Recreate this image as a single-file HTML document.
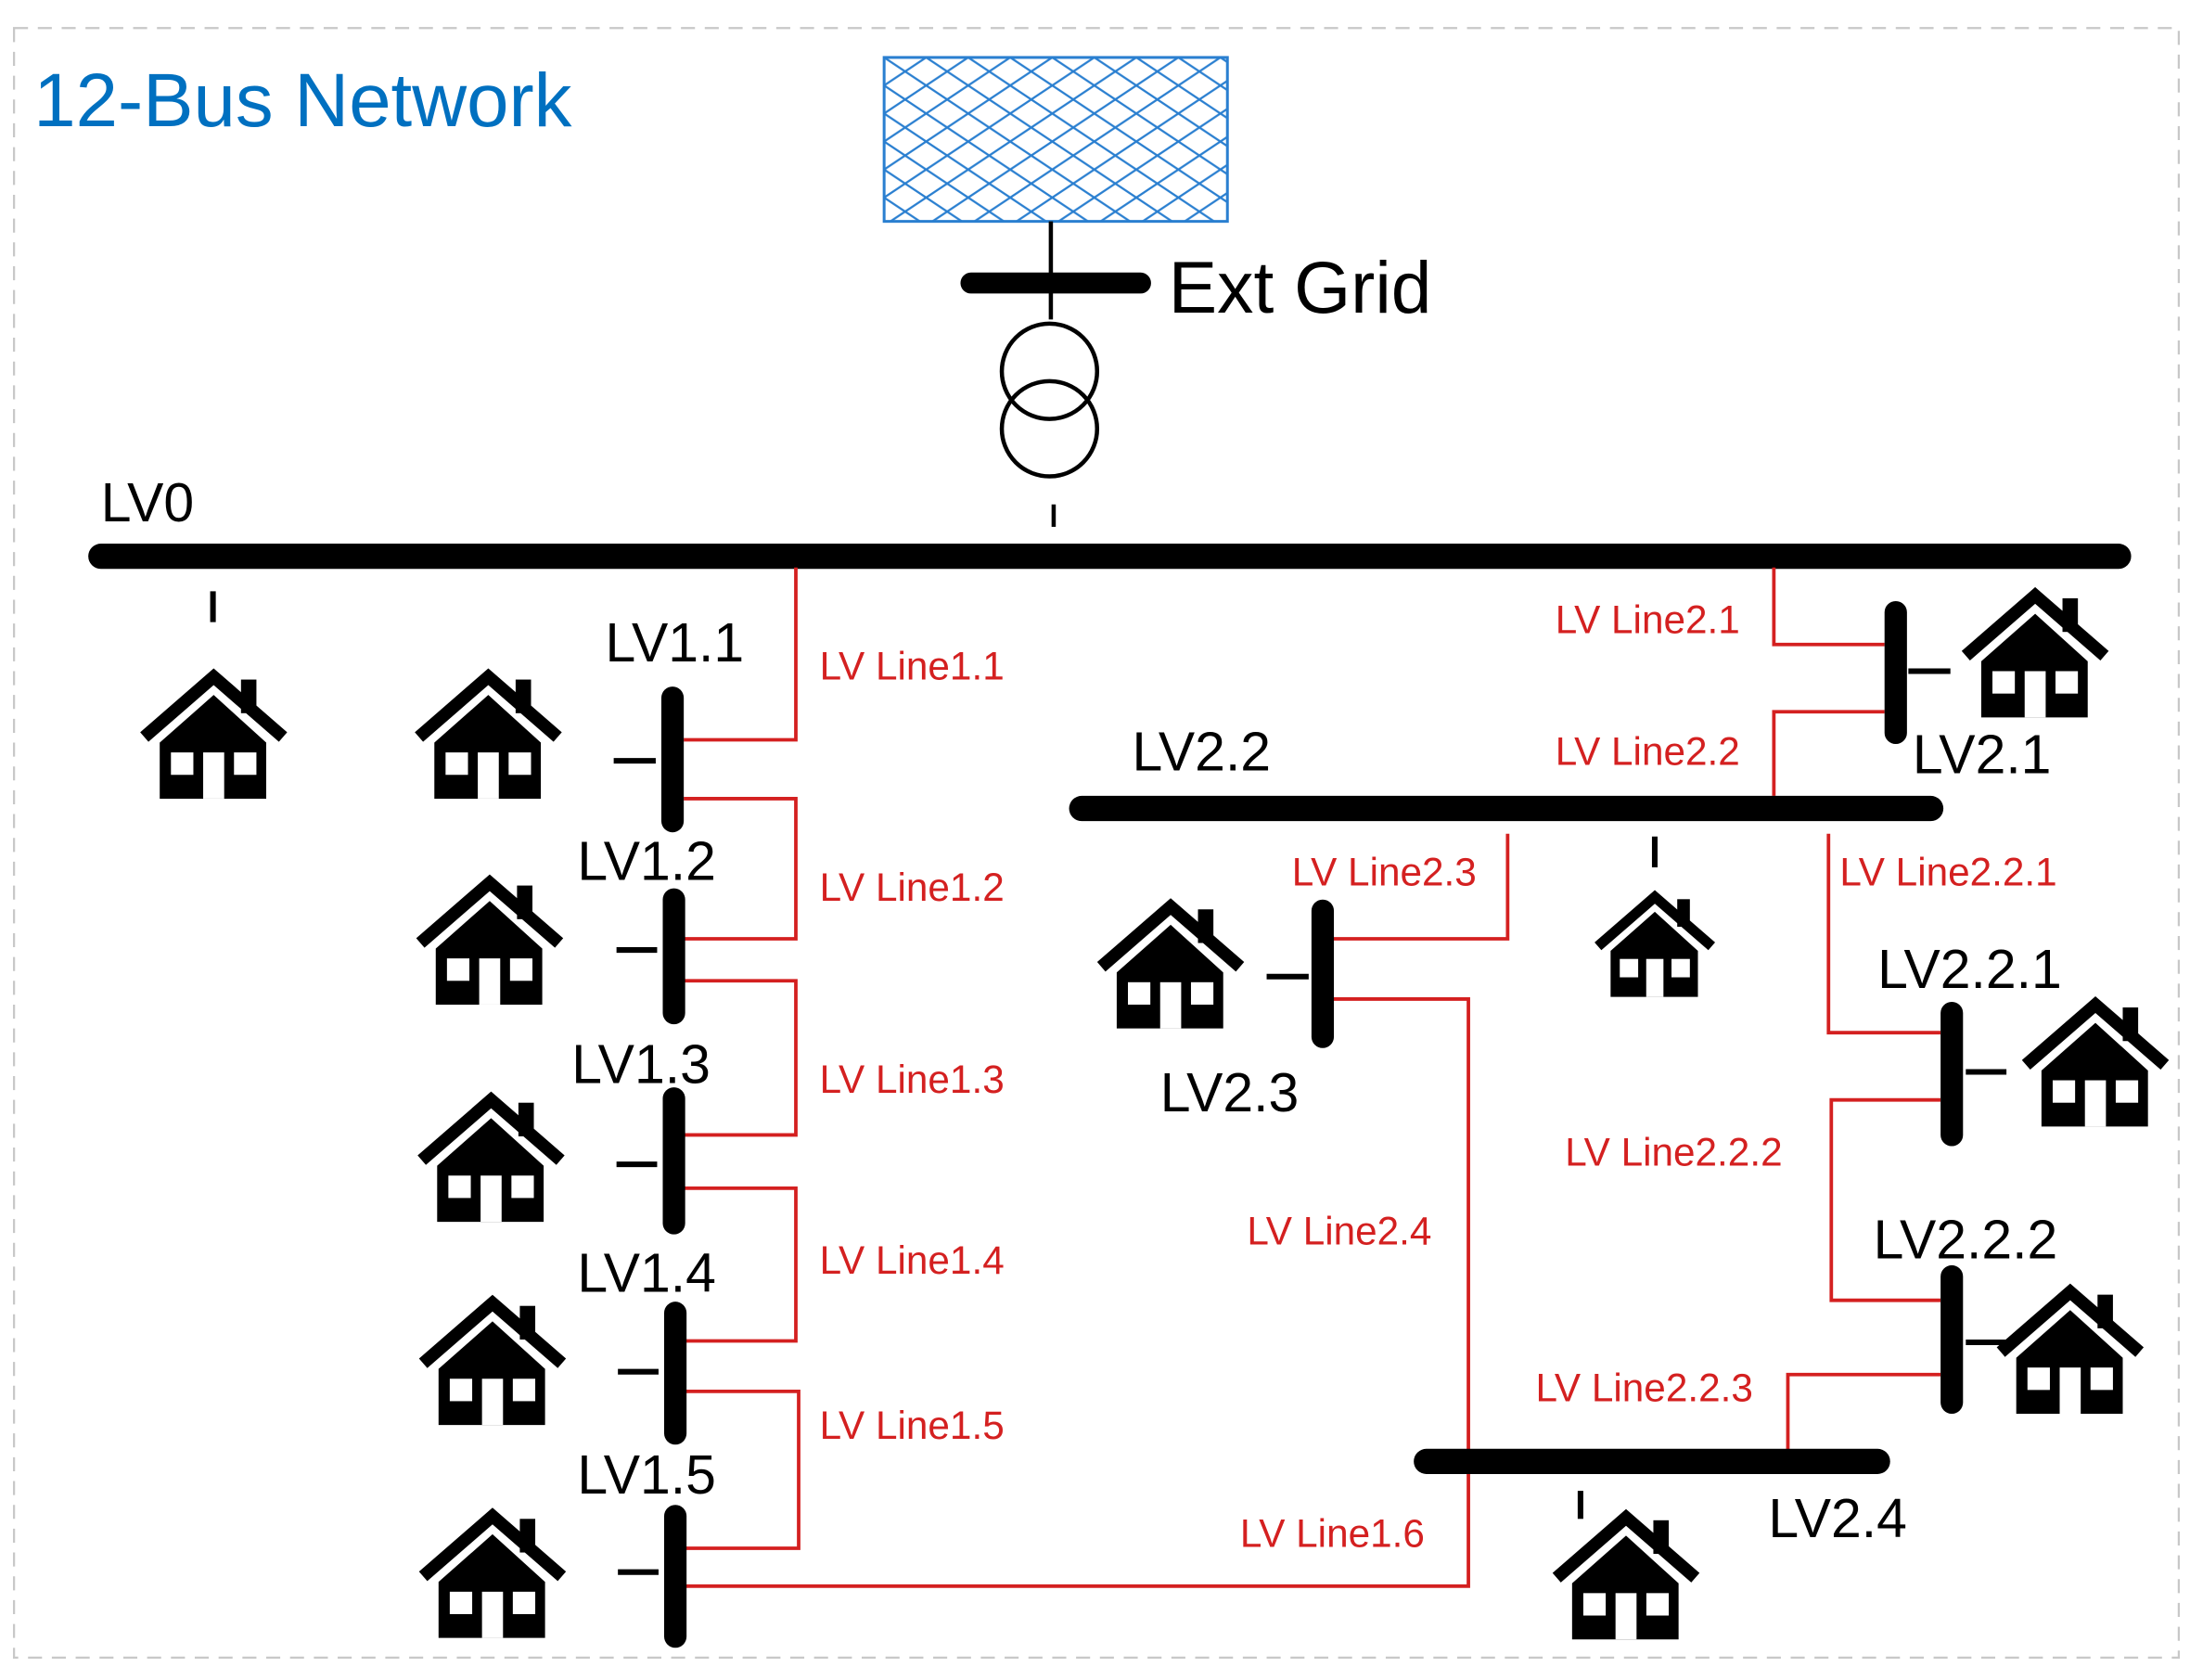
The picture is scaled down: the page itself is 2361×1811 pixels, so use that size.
<!DOCTYPE html>
<html><head><meta charset="utf-8"><style>
html,body{margin:0;padding:0;background:#fff;}
svg{display:block;}
text{font-family:"Liberation Sans",sans-serif;}
.b{font-size:39px;fill:#000;}
.r{font-size:28px;fill:#d42020;}
</style></head><body>
<svg width="2361" height="1811" viewBox="0 0 1563 1199" preserveAspectRatio="none" xmlns="http://www.w3.org/2000/svg">
<defs>
<pattern id="hatch" width="30" height="20" patternUnits="userSpaceOnUse" x="631" y="41">
<path d="M0,0 L30,20 M30,0 L0,20 M-15,10 L0,20 M30,0 L45,10 M-15,-10 L0,0 M30,20 L45,30" stroke="#2a7fd0" stroke-width="1.5" fill="none"/>
</pattern>
<g id="house">
<polyline points="3,48 52.5,5 102,48" fill="none" stroke="#000" stroke-width="9"/>
<rect x="72" y="7" width="11" height="24" fill="#000"/>
<polygon points="14,52 52.5,18 90,52 90,92 14,92" fill="#000"/>
<rect x="22" y="59" width="16" height="16" fill="#fff"/>
<rect x="67" y="59" width="16" height="16" fill="#fff"/>
<rect x="45" y="59" width="15" height="33" fill="#fff"/>
</g>
</defs>
<rect x="10" y="20" width="1545" height="1163" fill="none" stroke="#c8c8c8" stroke-width="1.5" stroke-dasharray="10,7"/>
<text x="24" y="90" style="font-size:54px;fill:#0070c0;">12-Bus Network</text>

<rect x="631" y="41" width="245" height="117" fill="url(#hatch)" stroke="#2a7fd0" stroke-width="2"/>
<line x1="750" y1="158" x2="750" y2="228" stroke="#000" stroke-width="3"/>
<line x1="693" y1="202" x2="814" y2="202" stroke="#000" stroke-width="15" stroke-linecap="round"/>
<text x="834" y="223" style="font-size:52px;">Ext Grid</text>
<circle cx="749" cy="265" r="34" fill="none" stroke="#000" stroke-width="3"/>
<circle cx="749" cy="306" r="34" fill="none" stroke="#000" stroke-width="3"/>
<line x1="752" y1="360" x2="752" y2="376" stroke="#000" stroke-width="3"/>

<line x1="72" y1="397" x2="1512" y2="397" stroke="#000" stroke-width="18" stroke-linecap="round"/>
<text class="b" x="72" y="372">LV0</text>
<line x1="152" y1="422" x2="152" y2="444" stroke="#000" stroke-width="4"/>

<g fill="none" stroke="#d42020" stroke-width="2.5">
<polyline points="568,405 568,528 488,528"/>
<polyline points="488,570 568,570 568,670 488,670"/>
<polyline points="488,700 568,700 568,810 488,810"/>
<polyline points="488,848 568,848 568,957 488,957"/>
<polyline points="488,993 570,993 570,1105 488,1105"/>
<polyline points="488,1132 1048,1132 1048,713 950,713"/>
<polyline points="950,670 1076,670 1076,595"/>
<polyline points="1266,405 1266,460 1345,460"/>
<polyline points="1266,568 1266,508 1345,508"/>
<polyline points="1305,595 1305,737 1385,737"/>
<polyline points="1385,785 1307,785 1307,928 1385,928"/>
<polyline points="1385,981 1276,981 1276,1035"/>
</g>

<g stroke="#000" stroke-linecap="round" fill="none">
<line x1="480" y1="498" x2="480" y2="586" stroke-width="16"/>
<line x1="481" y1="642" x2="481" y2="723" stroke-width="16"/>
<line x1="481" y1="784" x2="481" y2="873" stroke-width="16"/>
<line x1="482" y1="937" x2="482" y2="1023" stroke-width="16"/>
<line x1="482" y1="1082" x2="482" y2="1168" stroke-width="16"/>
<line x1="1353" y1="437" x2="1353" y2="523" stroke-width="16"/>
<line x1="944" y1="650" x2="944" y2="740" stroke-width="16"/>
<line x1="1393" y1="723" x2="1393" y2="810" stroke-width="16"/>
<line x1="1393" y1="911" x2="1393" y2="1001" stroke-width="16"/>
<line x1="772" y1="577" x2="1378" y2="577" stroke-width="18"/>
<line x1="1018" y1="1043" x2="1340" y2="1043" stroke-width="18"/>
</g>
<g stroke="#000" stroke-width="4">
<line x1="438" y1="543" x2="468" y2="543"/>
<line x1="440" y1="678" x2="469" y2="678"/>
<line x1="440" y1="831" x2="469" y2="831"/>
<line x1="441" y1="979" x2="470" y2="979"/>
<line x1="441" y1="1122" x2="470" y2="1122"/>
<line x1="1362" y1="479" x2="1392" y2="479"/>
<line x1="904" y1="697" x2="934" y2="697"/>
<line x1="1403" y1="765" x2="1432" y2="765"/>
<line x1="1403" y1="958" x2="1432" y2="958"/>
<line x1="1181" y1="597" x2="1181" y2="619"/>
<line x1="1128" y1="1064" x2="1128" y2="1084"/>
</g>

<text class="b" x="432" y="472">LV1.1</text>
<text class="b" x="412" y="628">LV1.2</text>
<text class="b" x="408" y="773">LV1.3</text>
<text class="b" x="412" y="922">LV1.4</text>
<text class="b" x="412" y="1066">LV1.5</text>
<text class="b" x="808" y="550">LV2.2</text>
<text class="b" x="1365" y="552">LV2.1</text>
<text class="b" x="828" y="793">LV2.3</text>
<text class="b" x="1340" y="705">LV2.2.1</text>
<text class="b" x="1337" y="898">LV2.2.2</text>
<text class="b" x="1262" y="1097">LV2.4</text>

<text class="r" x="585" y="485">LV Line1.1</text>
<text class="r" x="585" y="643">LV Line1.2</text>
<text class="r" x="585" y="780">LV Line1.3</text>
<text class="r" x="585" y="909">LV Line1.4</text>
<text class="r" x="585" y="1027">LV Line1.5</text>
<text class="r" x="885" y="1104">LV Line1.6</text>
<text class="r" x="1110" y="452">LV Line2.1</text>
<text class="r" x="1110" y="546">LV Line2.2</text>
<text class="r" x="922" y="632">LV Line2.3</text>
<text class="r" x="1313" y="632">LV Line2.2.1</text>
<text class="r" x="890" y="888">LV Line2.4</text>
<text class="r" x="1117" y="832">LV Line2.2.2</text>
<text class="r" x="1096" y="1000">LV Line2.2.3</text>

<use href="#house" x="100" y="478"/>
<use href="#house" x="296" y="478"/>
<use href="#house" x="297" y="625"/>
<use href="#house" x="298" y="780"/>
<use href="#house" x="299" y="925"/>
<use href="#house" x="299" y="1077"/>
<use href="#house" x="783" y="642"/>
<use href="#house" transform="translate(1138,636) scale(0.82)"/>
<use href="#house" x="1400" y="420"/>
<use href="#house" x="1443" y="712"/>
<use href="#house" x="1425" y="917"/>
<use href="#house" x="1108" y="1078"/>
</svg>
</body></html>
